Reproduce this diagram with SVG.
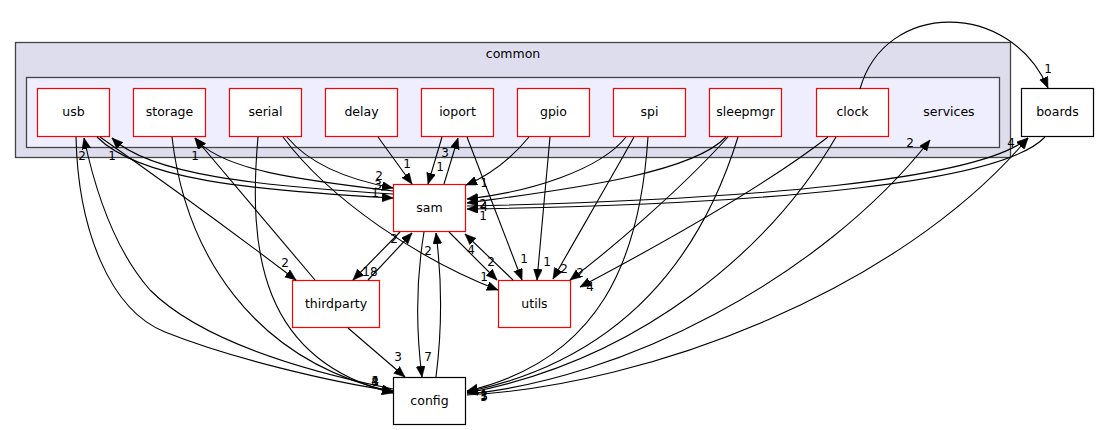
<svg xmlns="http://www.w3.org/2000/svg" width="1099" height="430" viewBox="0 0 1099 430">
<style>
text{font-family:"DejaVu Sans","Liberation Sans",sans-serif;fill:#000}
.name{font-size:12.5px;text-anchor:middle}
.lbl{font-size:12px;text-anchor:middle}
.node{fill:#fff;stroke:#ff0000;stroke-width:1.2}
.ext{fill:#fff;stroke:#000;stroke-width:1.2}
.edge path{fill:none;stroke:#000;stroke-width:1.1;marker-end:url(#arr)}
</style>
<defs>
<marker id="arr" markerUnits="userSpaceOnUse" markerWidth="12" markerHeight="10" refX="11" refY="4.5" orient="auto">
<path d="M0,0 L11,4.5 L0,9 z" fill="#000" stroke="#000" stroke-width="0.5"/>
</marker>
</defs>
<rect width="1099" height="430" fill="#fff"/>
<g id="cluster-common">
<rect x="15.5" y="42.5" width="995" height="115" fill="#ddddee" stroke="#444" stroke-width="1.3"/>
<text class="name" x="513" y="58">common</text>
</g>
<g id="cluster-services">
<rect x="26.5" y="77.5" width="973" height="70" fill="#eeeeff" stroke="#444" stroke-width="1.3"/>
<text class="name" x="949" y="116">services</text>
</g>
<g id="node-usb"><rect class="node" x="37.5" y="88.5" width="72" height="48"/><text class="name" x="73.5" y="116">usb</text></g>
<g id="node-storage"><rect class="node" x="133.5" y="88.5" width="72" height="48"/><text class="name" x="169.5" y="116">storage</text></g>
<g id="node-serial"><rect class="node" x="229.5" y="88.5" width="72" height="48"/><text class="name" x="265.5" y="116">serial</text></g>
<g id="node-delay"><rect class="node" x="325.5" y="88.5" width="72" height="48"/><text class="name" x="361.5" y="116">delay</text></g>
<g id="node-ioport"><rect class="node" x="421.5" y="88.5" width="72" height="48"/><text class="name" x="457.5" y="116">ioport</text></g>
<g id="node-gpio"><rect class="node" x="517.5" y="88.5" width="72" height="48"/><text class="name" x="553.5" y="116">gpio</text></g>
<g id="node-spi"><rect class="node" x="613.5" y="88.5" width="72" height="48"/><text class="name" x="649.5" y="116">spi</text></g>
<g id="node-sleepmgr"><rect class="node" x="709.5" y="88.5" width="72" height="48"/><text class="name" x="745.5" y="116">sleepmgr</text></g>
<g id="node-clock"><rect class="node" x="816.5" y="88.5" width="72" height="48"/><text class="name" x="852.5" y="116">clock</text></g>
<g id="node-boards"><rect class="ext" x="1021.5" y="88.5" width="72" height="48"/><text class="name" x="1057.5" y="116">boards</text></g>
<g id="node-sam"><rect class="node" x="393.5" y="184.5" width="72" height="47"/><text class="name" x="429.5" y="212">sam</text></g>
<g id="node-thirdparty"><rect class="node" x="292.5" y="280.5" width="87" height="47"/><text class="name" x="336" y="308">thirdparty</text></g>
<g id="node-utils"><rect class="node" x="498.5" y="280.5" width="72" height="47"/><text class="name" x="534.5" y="308">utils</text></g>
<g id="node-config"><rect class="ext" x="393.5" y="377.5" width="72" height="47"/><text class="name" x="429.5" y="405">config</text></g>
<g id="edges" class="edge">
<path d="M860,89 C885,0 1010,0 1048,88"/>
<path d="M76,137 C78,230 110,310 165,332 C230,358 330,382 393,391"/>
<path d="M393,389 C300,370 200,340 150,290 C115,250 95,190 84,138"/>
<path d="M97,137 C140,180 250,190 393,198"/>
<path d="M393,194 C260,186 150,175 112,138"/>
<path d="M393,191 C300,180 220,170 195,138"/>
<path d="M315,280 L195,138"/>
<path d="M100,137 C140,165 230,230 296,280"/>
<path d="M172,137 C185,250 250,360 393,392"/>
<path d="M258,137 C248,250 260,360 393,393"/>
<path d="M287,137 C310,165 350,180 393,188"/>
<path d="M283,137 C330,200 420,260 498,290"/>
<path d="M378,137 L412,184"/>
<path d="M442,137 L428,184"/>
<path d="M444,184 L458,138"/>
<path d="M467,137 L522,280"/>
<path d="M529,137 C510,160 490,175 466,185"/>
<path d="M550,137 L537,280"/>
<path d="M626,137 C600,170 530,192 467,199"/>
<path d="M634,137 C610,180 575,240 553,279"/>
<path d="M648,137 C640,260 600,360 467,391"/>
<path d="M726,137 C690,175 560,190 467,203"/>
<path d="M728,137 C680,190 610,250 570,280"/>
<path d="M738,137 C700,260 620,360 467,392"/>
<path d="M828,137 C760,190 650,250 580,287"/>
<path d="M836,137 C770,250 640,360 467,393"/>
<path d="M467,206 C750,200 980,180 1028,138"/>
<path d="M1045,137 C1000,185 750,205 467,209"/>
<path d="M467,394 C620,380 820,280 930,140"/>
<path d="M467,395 C650,385 900,290 1028,138"/>
<path d="M400,232 L353,280"/>
<path d="M368,280 L412,233"/>
<path d="M348,328 L405,377"/>
<path d="M424,232 C416,280 416,330 422,377"/>
<path d="M436,377 C442,330 442,280 436,233"/>
<path d="M449,232 L497,280"/>
<path d="M513,280 L465,234"/>
</g>
<g id="edge-labels" class="lbl">
<text class="lbl" x="1048" y="73">1</text>
<text class="lbl" x="82" y="160">2</text>
<text class="lbl" x="112" y="160">1</text>
<text class="lbl" x="195" y="160">1</text>
<text class="lbl" x="910" y="147">2</text>
<text class="lbl" x="1011" y="147">4</text>
<text class="lbl" x="379" y="180">2</text>
<text class="lbl" x="378" y="189">3</text>
<text class="lbl" x="375" y="197">1</text>
<text class="lbl" x="407" y="168">1</text>
<text class="lbl" x="440" y="171">1</text>
<text class="lbl" x="445" y="157">3</text>
<text class="lbl" x="484" y="187">1</text>
<text class="lbl" x="483" y="208">2</text>
<text class="lbl" x="484" y="211">4</text>
<text class="lbl" x="483" y="220">1</text>
<text class="lbl" x="285" y="267">2</text>
<text class="lbl" x="394" y="243">2</text>
<text class="lbl" x="370" y="276">18</text>
<text class="lbl" x="428" y="255">2</text>
<text class="lbl" x="471" y="254">4</text>
<text class="lbl" x="491" y="266">2</text>
<text class="lbl" x="484" y="281">1</text>
<text class="lbl" x="524" y="263">1</text>
<text class="lbl" x="547" y="266">1</text>
<text class="lbl" x="564" y="273">2</text>
<text class="lbl" x="580" y="277">2</text>
<text class="lbl" x="590" y="291">4</text>
<text class="lbl" x="398" y="361">3</text>
<text class="lbl" x="428" y="361">7</text>
<text class="lbl" x="375" y="385">1</text>
<text class="lbl" x="375" y="385">4</text>
<text class="lbl" x="375" y="386">8</text>
<text class="lbl" x="484" y="400">3</text>
<text class="lbl" x="484" y="401">5</text>
<text class="lbl" x="484" y="399">1</text>
</g>
</svg>
